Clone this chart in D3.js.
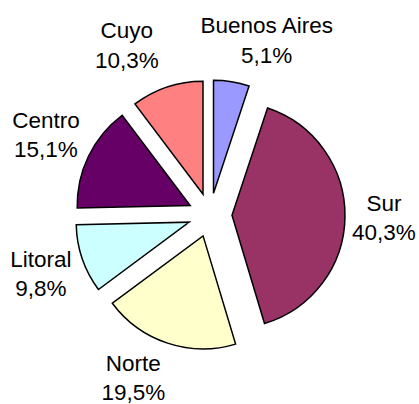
<!DOCTYPE html>
<html>
<head>
<meta charset="utf-8">
<script src="https://cdn.jsdelivr.net/npm/d3@7/dist/d3.min.js"></script>
<style>
  body { margin: 0; background: #fff; }
  svg { display: block; }
</style>
</head>
<body>
<svg width="419" height="404"></svg>
<script>
var regions = ["Buenos Aires", "Sur", "Norte", "Litoral", "Centro", "Cuyo"];
var shares = [5.1, 40.3, 19.5, 9.8, 15.1, 10.3];
var colors = ["#9999ff", "#993366", "#ffffcc", "#ccffff", "#660066", "#ff8080"];

var svg = d3.select("svg"),
    width = +svg.attr("width"),
    height = +svg.attr("height");

var cx = 210, cy = 215,
    radius = 113,
    explode = 22,
    labelRadius = 180;

// small nudges so the labels sit where the original chart put them
var labelNudge = [[28, 3], [-6, 0], [-20, -8], [1, 0], [-2, -2], [-26, 1]];

var data = regions.map(function(r, i) {
    return {name: r, value: shares[i], color: colors[i], index: i};
});

var pie = d3.pie()
    .sort(null)
    .value(function(d) { return d.value; });

var arc = d3.arc()
    .innerRadius(0)
    .outerRadius(radius);

var arcs = pie(data);

var g = svg.append("g")
    .attr("transform", "translate(" + cx + "," + cy + ")");

function mid(d) { return (d.startAngle + d.endAngle) / 2; }

g.selectAll("path")
    .data(arcs)
    .enter().append("path")
    .attr("transform", function(d) {
        var a = mid(d);
        return "translate(" + (Math.sin(a) * explode) + "," + (-Math.cos(a) * explode) + ")";
    })
    .attr("d", arc)
    .attr("fill", function(d) { return d.data.color; })
    .attr("stroke", "#000")
    .attr("stroke-width", 1.5)
    .attr("stroke-linejoin", "miter");

var fmt = function(v) { return v.toFixed(1).replace(".", ",") + "%"; };

var labels = g.selectAll("text")
    .data(arcs)
    .enter().append("text")
    .attr("font-family", "'Liberation Sans', Arial, sans-serif")
    .attr("font-size", 22.5)
    .attr("fill", "#000")
    .attr("text-anchor", "middle")
    .attr("transform", function(d) {
        var a = mid(d), n = labelNudge[d.data.index];
        var x = Math.sin(a) * labelRadius + n[0],
            y = -Math.cos(a) * labelRadius + n[1];
        return "translate(" + x + "," + y + ")";
    });

labels.append("tspan")
    .attr("x", 0)
    .attr("y", -7)
    .text(function(d) { return d.data.name; });

labels.append("tspan")
    .attr("x", 0)
    .attr("y", 22.5)
    .text(function(d) { return fmt(d.data.value); });
</script>
</body>
</html>
